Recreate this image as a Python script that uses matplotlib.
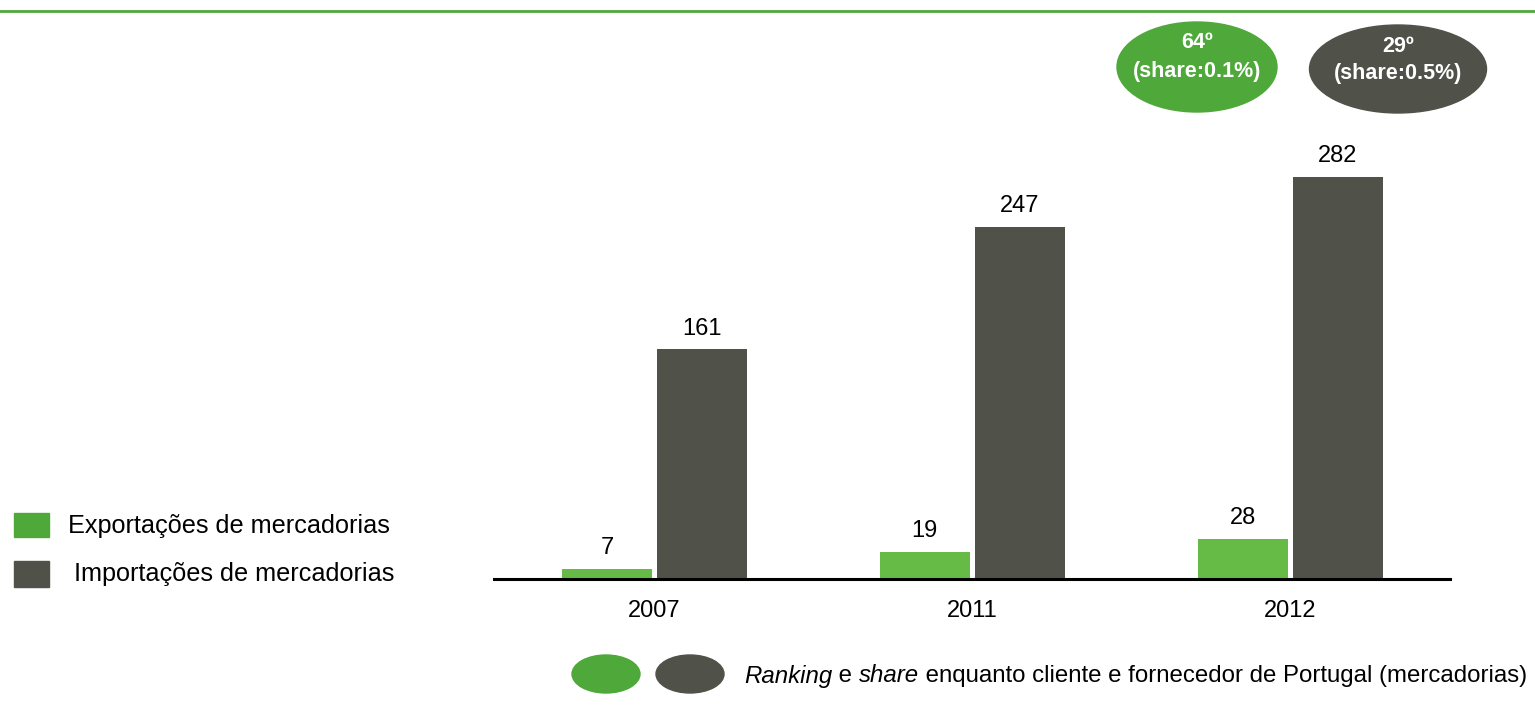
import matplotlib
matplotlib.use("Agg")
import matplotlib.pyplot as plt
import matplotlib.transforms as mtrans
from matplotlib.patches import Ellipse, Rectangle
import numpy as np

plt.rcParams['font.family'] = ['Liberation Sans', 'DejaVu Sans']

years = ["2007", "2011", "2012"]
exports = [7, 19, 28]
imports = [161, 247, 282]
series_labels = ["Exportações de mercadorias", "Importações de mercadorias"]
rank_export = ["64º", "(share:0.1%)"]
rank_import = ["29º", "(share:0.5%)"]
footnote_italic1 = "Ranking"
footnote_mid = " e "
footnote_italic2 = "share"
footnote_rest = " enquanto cliente e fornecedor de Portugal (mercadorias)"

W, H = 1535, 707
DPI = 100
fig = plt.figure(figsize=(W / DPI, H / DPI), dpi=DPI)

GREEN_BAR = "#66BB46"
GREEN = "#4EA83A"
DARK = "#50524A"

# axes in pixel coordinates
ax_left, ax_right = 494, 1450
base_y = 579
px_per_unit = 402 / 282.0
ymax = 300
ax_top = base_y - ymax * px_per_unit
ax = fig.add_axes([ax_left / W, (H - base_y) / H, (ax_right - ax_left) / W, (base_y - ax_top) / H])

x = np.arange(len(years))
bw = 0.283
gap = 0.008
b1 = ax.bar(x - bw / 2 - gap, exports, width=bw, color=GREEN_BAR)
b2 = ax.bar(x + bw / 2 + gap, imports, width=bw, color=DARK)
for bars, vals in ((b1, exports), (b2, imports)):
    for r, v in zip(bars, vals):
        ax.annotate(str(v), (r.get_x() + r.get_width() / 2, v), xytext=(0, 7),
                    textcoords="offset points", ha="center", va="bottom", fontsize=17, color="black")

ax.set_xlim(-0.505, 2.503)
ax.set_ylim(0, ymax)
for s in ("top", "right", "left"):
    ax.spines[s].set_visible(False)
ax.spines["bottom"].set_linewidth(2.2)
ax.spines["bottom"].set_color("black")
ax.set_yticks([])
ax.set_xticks(x)
ax.set_xticklabels(years, fontsize=17)
ax.tick_params(axis="x", length=0, pad=15)

# overlay axes in pixel coords for decorations
ov = fig.add_axes([0, 0, 1, 1], zorder=-1)
ov.set_xlim(0, W)
ov.set_ylim(H, 0)
ov.axis("off")

# top green rule
ov.plot([0, W], [11, 11], color=GREEN, lw=2)

# ranking ellipses
ov.add_patch(Ellipse((1197, 67), 160, 90, color=GREEN))
ov.add_patch(Ellipse((1398, 69), 177, 88, color=DARK))
for cx, cy, lines in ((1197, 43, rank_export), (1398, 46, rank_import)):
    ov.text(cx, cy, lines[0], ha="center", va="center", color="white",
            fontsize=15.5, fontweight="bold")
    ov.text(cx, cy + 28, lines[1], ha="center", va="center", color="white",
            fontsize=15.5, fontweight="bold")

# left legend
ov.add_patch(Rectangle((14, 513), 35, 24, color=GREEN))
ov.add_patch(Rectangle((14, 561), 35, 26, color=DARK))
ov.text(68, 526, series_labels[0], ha="left", va="center", fontsize=18.2)
ov.text(74, 574, series_labels[1], ha="left", va="center", fontsize=18.2)

# bottom key
ov.add_patch(Ellipse((606, 674), 68, 38, color=GREEN))
ov.add_patch(Ellipse((690, 674), 68, 38, color=DARK))
fig.canvas.draw()
r = fig.canvas.get_renderer()
ident = mtrans.IdentityTransform()
xp = 744
yp = H - 676
for s, st in ((footnote_italic1, "italic"), (footnote_mid, "normal"),
              (footnote_italic2, "italic"), (footnote_rest, "normal")):
    t = ov.text(xp, yp, s, ha="left", va="center", fontsize=17.3, style=st, transform=ident)
    xp = t.get_window_extent(renderer=r).x1

fig.savefig("out.png", dpi=DPI)
